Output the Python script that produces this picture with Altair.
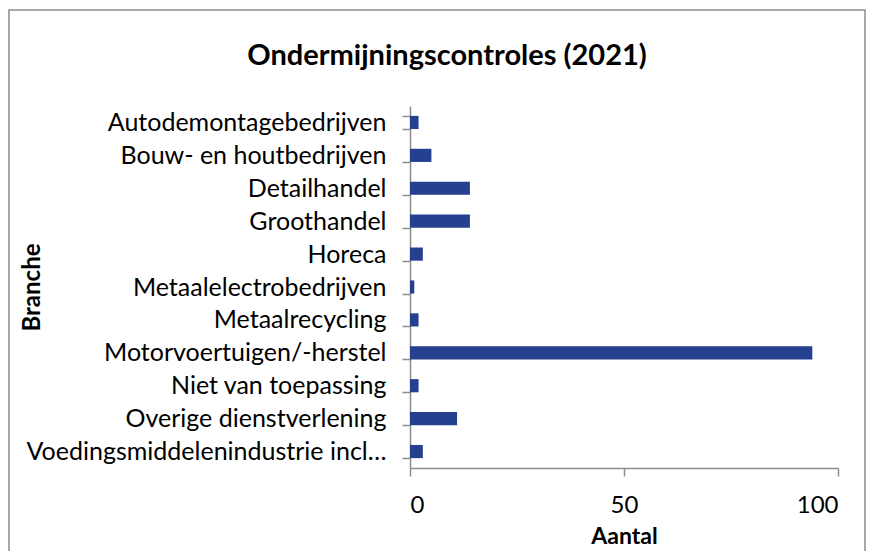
import altair as alt
import pandas as pd

categories = [
    "Autodemontagebedrijven",
    "Bouw- en houtbedrijven",
    "Detailhandel",
    "Groothandel",
    "Horeca",
    "Metaalelectrobedrijven",
    "Metaalrecycling",
    "Motorvoertuigen/-herstel",
    "Niet van toepassing",
    "Overige dienstverlening",
    "Voedingsmiddelenindustrie incl…",
]
values = [2, 5, 14, 14, 3, 1, 2, 94, 2, 11, 3]

df = pd.DataFrame({"Branche": categories, "Aantal": values})
FONT = "Lato"
GRAY = "#8c8c8c"

bars = alt.Chart(df).mark_bar(color="#25408F").encode(
    x=alt.X(
        "Aantal:Q",
        scale=alt.Scale(domain=[0, 100], nice=False),
        axis=alt.Axis(
            values=[0, 50, 100],
            grid=False,
            domainColor=GRAY,
            tickColor=GRAY,
            domainWidth=1.5,
            tickWidth=1.5,
            tickSize=8,
            labelPadding=17,
            labelFontSize=24,
            labelColor="#000000",
            labelFont=FONT,
            title="Aantal",
            titleFontSize=23,
            titleFont=FONT,
            titleFontWeight="bold",
            titleColor="#000000",
            titleY=57,
        ),
    ),
    y=alt.Y(
        "Branche:N",
        sort=categories,
        scale=alt.Scale(paddingInner=0.6, paddingOuter=0.3),
        axis=alt.Axis(
            tickBand="extent",
            domainColor=GRAY,
            tickColor=GRAY,
            domainWidth=1.5,
            tickWidth=1.5,
            tickSize=8,
            labelPadding=16,
            labelFontSize=25,
            labelColor="#000000",
            labelFont=FONT,
            labelLimit=420,
            title="Branche",
            titleFontSize=24,
            titleFont=FONT,
            titleFontWeight="bold",
            titleColor="#000000",
            titleX=-366,
        ),
    ),
)

frame = alt.Chart(pd.DataFrame({"f": [1]})).mark_rect(
    fill=None, stroke=GRAY, strokeWidth=1.5, clip=False
).encode(
    x=alt.value(-401),
    x2=alt.value(455),
    y=alt.value(-96),
    y2=alt.value(520),
)

chart = alt.layer(frame, bars).properties(
    width=428,
    height=362,
    background="white",
    title=alt.TitleParams(
        "Ondermijningscontroles (2021)",
        font=FONT,
        fontSize=29,
        fontWeight="bold",
        color="#000000",
        anchor="middle",
        frame="group",
        baseline="alphabetic",
        dx=-177,
        offset=-85,
    ),
    autosize=alt.AutoSizeParams(type="none"),
    padding={"left": 402, "top": 98, "right": 28, "bottom": 83},
).configure_view(strokeWidth=0, stroke="transparent")

chart.save("out.html", embed_options={"renderer": "svg", "actions": False})
